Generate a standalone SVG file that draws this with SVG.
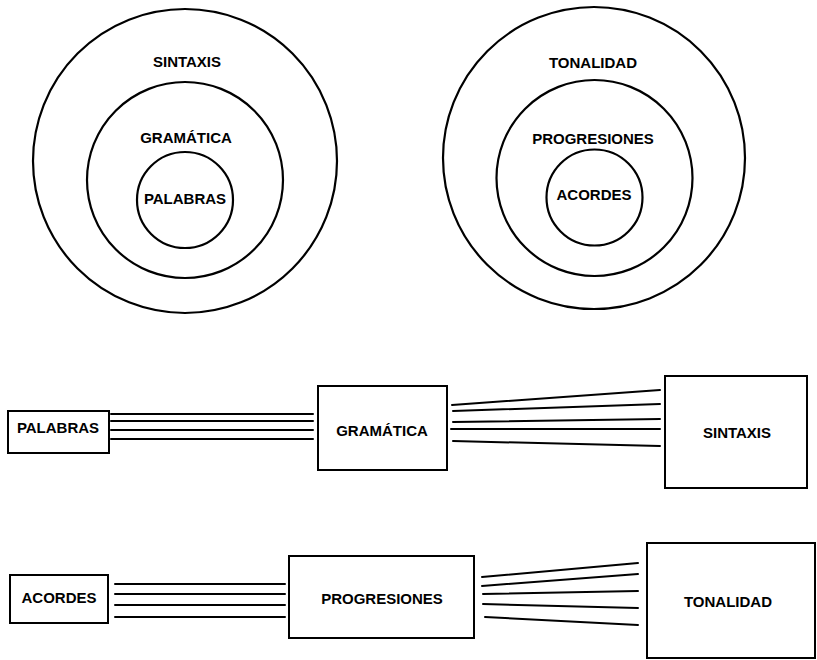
<svg xmlns="http://www.w3.org/2000/svg" width="817" height="660" viewBox="0 0 817 660">
<style>
.c{fill:none;stroke:#000;stroke-width:2.2}
.b{fill:#fff;stroke:#000;stroke-width:2}
.l{fill:none;stroke:#000;stroke-width:2;stroke-linecap:round}
text{font-family:"Liberation Sans",Arial,sans-serif;font-weight:bold;font-size:15px;fill:#000;text-anchor:middle}
</style>
<rect width="817" height="660" fill="#fff"/>
<g id="sintaxis-circle"><circle class="c" cx="185" cy="161" r="152"/><text x="187" y="67">SINTAXIS</text></g>
<g id="gramatica-circle"><circle class="c" cx="185" cy="180" r="98"/><text x="186" y="143">GRAMÁTICA</text></g>
<g id="palabras-circle"><circle class="c" cx="185" cy="200" r="48"/><text x="185" y="204">PALABRAS</text></g>
<g id="tonalidad-circle"><circle class="c" cx="594" cy="158" r="151"/><text x="593" y="68">TONALIDAD</text></g>
<g id="progresiones-circle"><circle class="c" cx="594.5" cy="178" r="98"/><text x="593" y="144">PROGRESIONES</text></g>
<g id="acordes-circle"><circle class="c" cx="594.5" cy="197.5" r="48"/><text x="594" y="200">ACORDES</text></g>
<g id="connectors">
<line class="l" x1="111" y1="414" x2="313" y2="414"/>
<line class="l" x1="111" y1="421" x2="313" y2="421"/>
<line class="l" x1="111" y1="430" x2="313" y2="430"/>
<line class="l" x1="111" y1="439" x2="313" y2="439"/>
<line class="l" x1="452" y1="405" x2="660" y2="390"/>
<line class="l" x1="453" y1="411" x2="660" y2="404"/>
<line class="l" x1="453" y1="422" x2="660" y2="419"/>
<line class="l" x1="451" y1="429" x2="660" y2="429"/>
<line class="l" x1="453" y1="441" x2="660" y2="446"/>
<line class="l" x1="115" y1="584" x2="285" y2="584"/>
<line class="l" x1="115" y1="594" x2="285" y2="594"/>
<line class="l" x1="115" y1="605" x2="285" y2="605"/>
<line class="l" x1="115" y1="617" x2="285" y2="617"/>
<line class="l" x1="482" y1="577" x2="638" y2="563"/>
<line class="l" x1="482" y1="586" x2="638" y2="574"/>
<line class="l" x1="483" y1="594" x2="638" y2="591"/>
<line class="l" x1="483" y1="604" x2="638" y2="608"/>
<line class="l" x1="485" y1="617" x2="638" y2="625"/>
</g>
<g id="palabras-box"><rect class="b" x="8" y="411" width="101" height="42"/><text x="58" y="433">PALABRAS</text></g>
<g id="gramatica-box"><rect class="b" x="318" y="386" width="129" height="84"/><text x="382" y="436">GRAMÁTICA</text></g>
<g id="sintaxis-box"><rect class="b" x="665" y="376" width="142" height="112"/><text x="737" y="438">SINTAXIS</text></g>
<g id="acordes-box"><rect class="b" x="10" y="575" width="98" height="48"/><text x="59" y="603">ACORDES</text></g>
<g id="progresiones-box"><rect class="b" x="289" y="556" width="185" height="82"/><text x="382" y="604">PROGRESIONES</text></g>
<g id="tonalidad-box"><rect class="b" x="647" y="543" width="168" height="115"/><text x="728" y="607">TONALIDAD</text></g>
</svg>
